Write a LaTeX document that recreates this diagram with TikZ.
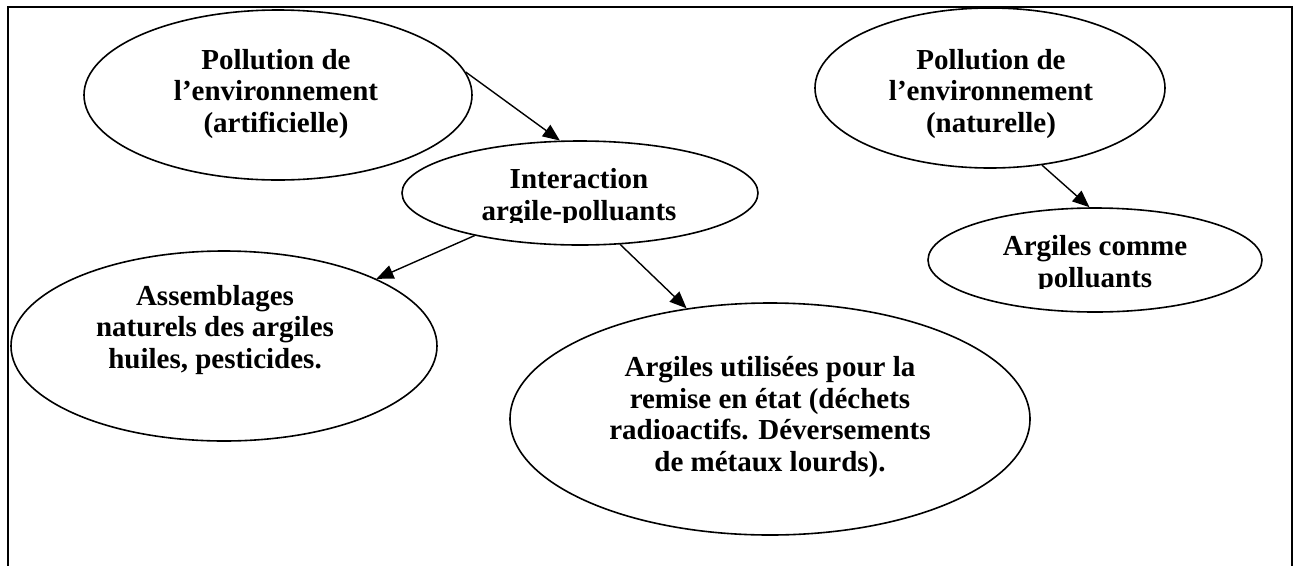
\documentclass[tikz,border=0pt]{standalone}
\usepackage{fontspec}
\setmainfont{Liberation Serif}
\usetikzlibrary{arrows.meta,shapes.geometric}

\begin{document}
\begin{tikzpicture}[x=1pt,y=-1pt,
  bubble/.style 2 args={draw, ellipse, line width=1.6pt, inner sep=0pt,
                        minimum width=#1, minimum height=#2},
  btext/.style={font=\bfseries\fontsize{29}{31.5}\selectfont, align=center,
                inner sep=0pt, anchor=base},
  link/.style={line width=1.4pt, -{Triangle[length=17pt,width=14pt]}}
]
\useasboundingbox (0,0) rectangle (1299,566);

% frame (open at the bottom)
\draw[line width=2pt] (8,6.5) -- (1292,6.5);
\draw[line width=1.3pt] (8,6) -- (8,566);
\draw[line width=2pt] (1292,6) -- (1292,566);

% ellipses
\node[bubble={388}{170}] (art)   at (278,95)  {};
\node[bubble={350}{160}] (nat)   at (990,88)  {};
\node[bubble={356}{104}] (inter) at (580,193) {};
\node[bubble={334}{104}] (comme) at (1095,260) {};
\node[bubble={426}{190}] (assem) at (224,346) {};
\node[bubble={520}{232}] (usage) at (770,419) {};

% texts (anchored on the baseline of their last line)
\node[btext] (artT) at (276,132) {Pollution de\\l’environnement\\(artificielle)};
\node[btext] (natT) at (991,132) {Pollution de\\l’environnement\\(naturelle)};
\begin{scope}
  \clip (400,140) rectangle (760,222);
  \node[btext] (interT) at (579,220) {Interaction\\argile-polluants};
\end{scope}
\begin{scope}
  \clip (925,205) rectangle (1265,288);
  \node[btext] (commeT) at (1095,287) {Argiles comme\\polluants};
\end{scope}
\node[btext] (assemT) at (215,368) {Assemblages\\naturels des argiles\\huiles, pesticides.};
\node[btext] (usageT) at (770,471) {Argiles utilisées pour la\\remise en état (déchets\\radioactifs. Déversements\\de métaux lourds).};

% connectors
\draw[link] (art.7) -- (inter.111);
\draw[link] (inter.202) -- (assem);
\draw[link] (inter.-52) -- (usage.127);
\draw[link] (nat.-56) -- (comme.96);
\end{tikzpicture}
\end{document}
